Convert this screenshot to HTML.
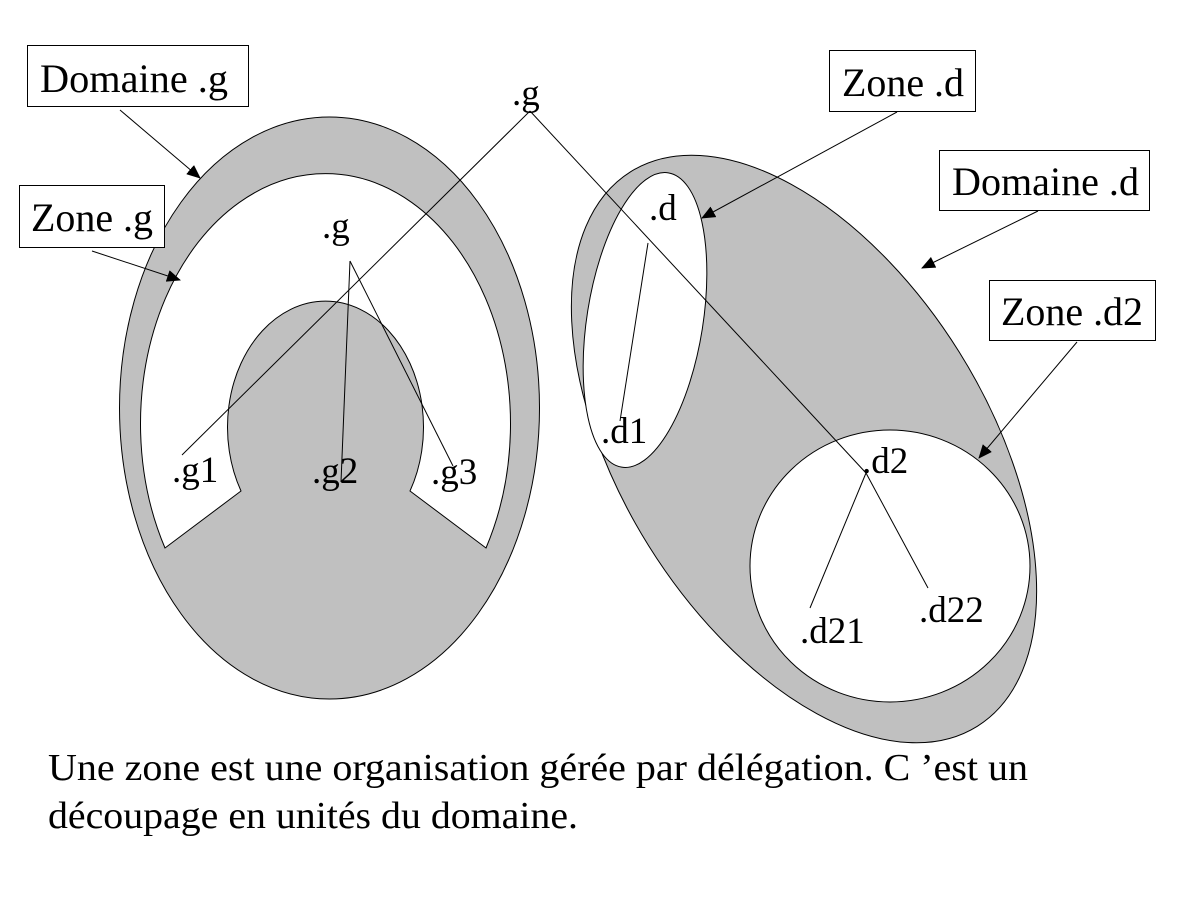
<!DOCTYPE html>
<html><head><meta charset="utf-8"><style>
html,body{margin:0;padding:0;background:#fff;}
svg{display:block;}
text{font-family:"Liberation Serif","Times New Roman",serif;fill:#000;}
</style></head><body>
<svg width="1198" height="898" viewBox="0 0 1198 898" xmlns="http://www.w3.org/2000/svg">
<defs>
<marker id="ar" markerWidth="14" markerHeight="12" refX="13" refY="6" orient="auto" markerUnits="userSpaceOnUse">
<path d="M0,0 L14,6 L0,12 z" fill="#000"/>
</marker>
</defs>
<rect width="1198" height="898" fill="#fff"/>

<!-- Left domain -->
<ellipse cx="329.5" cy="408" rx="210" ry="291" fill="#c0c0c0" stroke="#000" stroke-width="1"/>
<path d="M165,548 A185,250 0 1 1 486,548 L410,491 A98,126 0 1 0 241,491 Z" fill="#fff" stroke="#000" stroke-width="1"/>

<!-- Right domain -->
<ellipse cx="804" cy="449" rx="327" ry="183" transform="rotate(58 804 449)" fill="#c0c0c0" stroke="#000" stroke-width="1"/>
<ellipse cx="645" cy="320" rx="58" ry="149" transform="rotate(9 645 320)" fill="#fff" stroke="#000" stroke-width="1"/>
<ellipse cx="890" cy="566" rx="140" ry="136" fill="#fff" stroke="#000" stroke-width="1"/>

<!-- Tree lines -->
<g stroke="#000" stroke-width="1" fill="none">
<line x1="530" y1="111" x2="182" y2="455"/>
<line x1="530" y1="111" x2="866" y2="473"/>
<line x1="866" y1="473" x2="928" y2="588"/>
<line x1="350" y1="261" x2="341" y2="482"/>
<line x1="350" y1="261" x2="453" y2="466"/>
<line x1="648" y1="243" x2="620" y2="421"/>
<line x1="866" y1="473" x2="810" y2="608"/>
</g>

<!-- Label boxes -->
<g fill="#fff" stroke="#000" stroke-width="1">
<rect x="27.5" y="45.5" width="221" height="61"/>
<rect x="19.5" y="185.5" width="145" height="62"/>
<rect x="829.5" y="50.5" width="146" height="61"/>
<rect x="939.5" y="150.5" width="210" height="60"/>
<rect x="989.5" y="280.5" width="166" height="60"/>
</g>
<g font-size="40">
<text x="40" y="92" textLength="188" lengthAdjust="spacingAndGlyphs">Domaine .g</text>
<text x="31" y="231" textLength="122" lengthAdjust="spacingAndGlyphs">Zone .g</text>
<text x="842" y="96" textLength="122" lengthAdjust="spacingAndGlyphs">Zone .d</text>
<text x="952" y="195" textLength="187" lengthAdjust="spacingAndGlyphs">Domaine .d</text>
<text x="1001" y="325" textLength="142" lengthAdjust="spacingAndGlyphs">Zone .d2</text>
</g>

<!-- Arrows -->
<g stroke="#000" stroke-width="1" marker-end="url(#ar)">
<line x1="120" y1="110" x2="200" y2="178"/>
<line x1="92" y1="251" x2="180" y2="280"/>
<line x1="897" y1="112" x2="702" y2="218"/>
<line x1="1038" y1="211" x2="922" y2="268"/>
<line x1="1077" y1="342" x2="979" y2="458"/>
</g>

<!-- Node labels -->
<g font-size="37">
<text x="512" y="105">.g</text>
<text x="322" y="238">.g</text>
<text x="172" y="482">.g1</text>
<text x="312" y="483">.g2</text>
<text x="431" y="484">.g3</text>
<text x="649" y="220">.d</text>
<text x="601" y="443">.d1</text>
<text x="862" y="473">.d2</text>
<text x="800" y="643">.d21</text>
<text x="919" y="622">.d22</text>
</g>

<g font-size="38">
<text x="48" y="780" textLength="980" lengthAdjust="spacingAndGlyphs">Une zone est une organisation gérée par délégation. C ’est un</text>
<text x="48" y="828" textLength="530" lengthAdjust="spacingAndGlyphs">découpage en unités du domaine.</text>
</g>
</svg>
</body></html>
